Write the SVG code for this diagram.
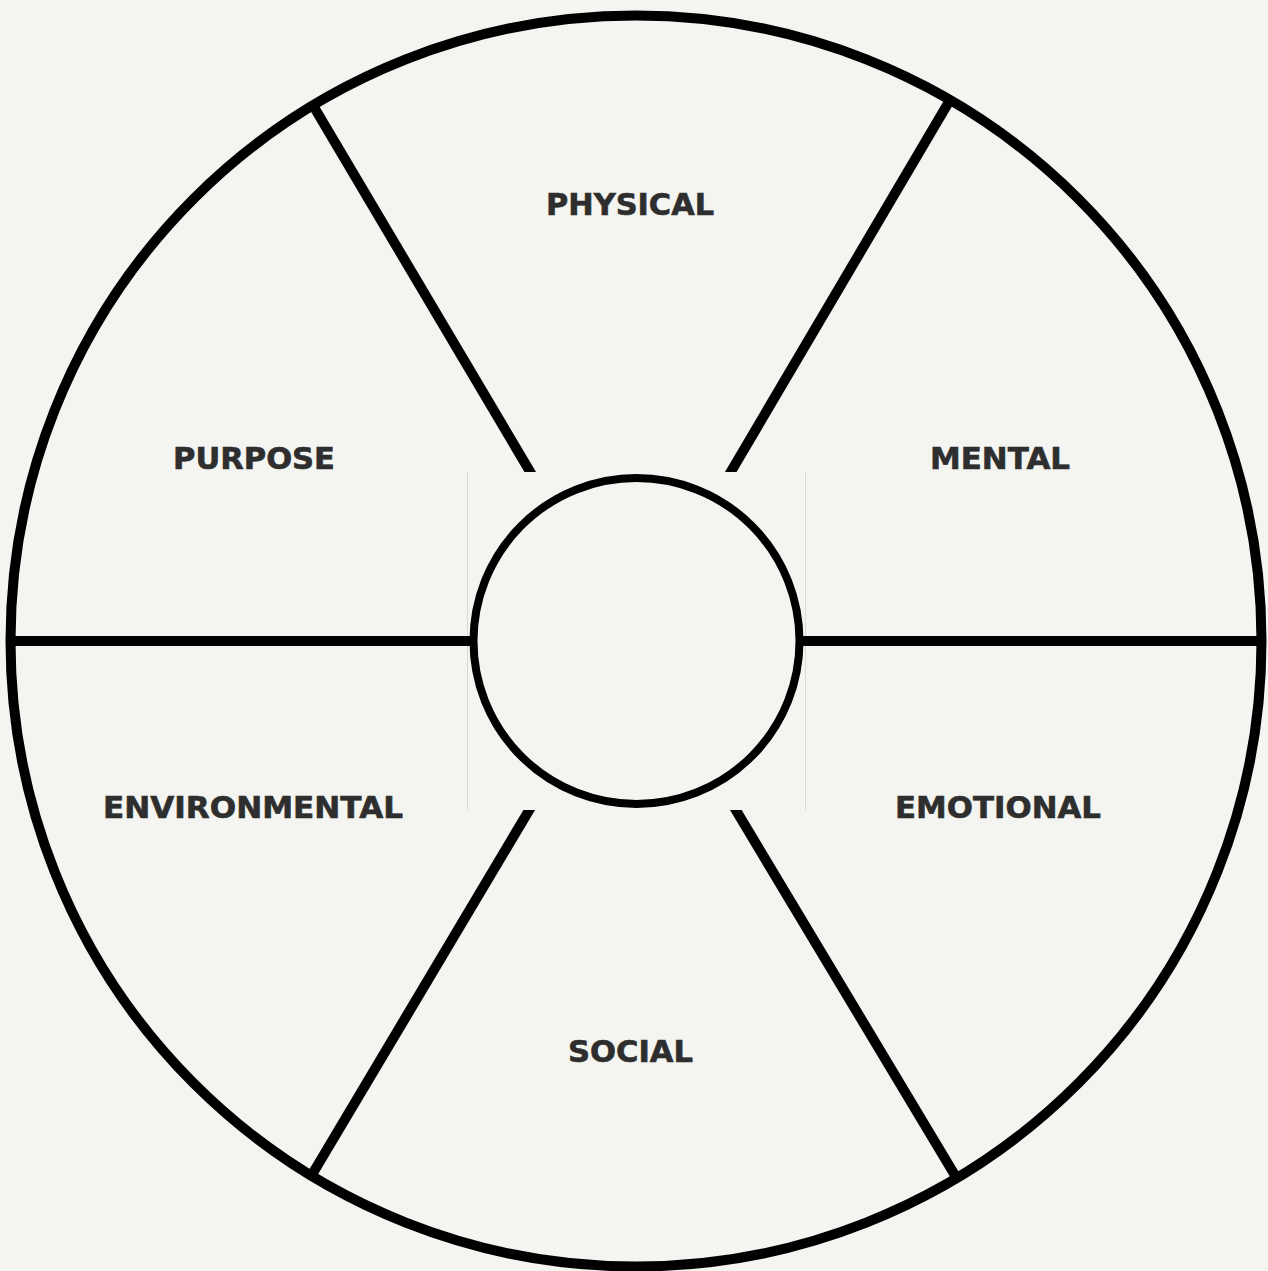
<svg xmlns="http://www.w3.org/2000/svg" width="1268" height="1271" viewBox="0 0 1268 1271">
  <style>
    .lbl { font-family: "DejaVu Sans", "Liberation Sans", sans-serif; font-weight: bold; font-size: 30px; fill: #2e2e2e; stroke: #2e2e2e; stroke-width: 0.6; text-anchor: middle; }
    .spoke { stroke: #000; stroke-width: 10; fill: none; stroke-linecap: butt; }
    .faint { stroke: #d9d9d6; stroke-width: 1; }
  </style>
  <defs>
    <clipPath id="topClip"><rect x="0" y="0" width="1268" height="472"/></clipPath>
    <clipPath id="botClip"><rect x="0" y="810" width="1268" height="461"/></clipPath>
  </defs>
  <rect x="0" y="0" width="1268" height="1271" fill="#f4f5f0"/>
  <g id="outer-circle">
    <circle cx="636" cy="641" r="625.5" fill="#f4f5f0" stroke="#000" stroke-width="10"/>
  </g>
  <g id="connectors">
    <line class="faint" x1="467.5" y1="472" x2="467.5" y2="810"/>
    <line class="faint" x1="805.5" y1="472" x2="805.5" y2="810"/>
    <line class="spoke" x1="10" y1="641" x2="470" y2="641" stroke-width="9"/>
    <line class="spoke" x1="803" y1="641" x2="1262" y2="641" stroke-width="9"/>
    <g clip-path="url(#topClip)">
      <line class="spoke" x1="311" y1="102" x2="535" y2="480"/>
      <line class="spoke" x1="950" y1="100" x2="726" y2="480"/>
    </g>
    <g clip-path="url(#botClip)">
      <line class="spoke" x1="534" y1="802" x2="310" y2="1178" stroke-linecap="round"/>
      <line class="spoke" x1="731" y1="802" x2="956" y2="1177"/>
    </g>
  </g>
  <g id="center">
    <circle cx="636.5" cy="641" r="163" fill="#f4f5f0" stroke="#000" stroke-width="8"/>
  </g>
  <g id="physical"><text class="lbl" x="630" y="215" textLength="168" lengthAdjust="spacingAndGlyphs">PHYSICAL</text></g>
  <g id="mental"><text class="lbl" x="1000" y="469" textLength="140" lengthAdjust="spacingAndGlyphs">MENTAL</text></g>
  <g id="emotional"><text class="lbl" x="998" y="818" textLength="206" lengthAdjust="spacingAndGlyphs">EMOTIONAL</text></g>
  <g id="social"><text class="lbl" x="630.5" y="1062" textLength="125" lengthAdjust="spacingAndGlyphs">SOCIAL</text></g>
  <g id="environmental"><text class="lbl" x="253" y="818" textLength="300" lengthAdjust="spacingAndGlyphs">ENVIRONMENTAL</text></g>
  <g id="purpose"><text class="lbl" x="254" y="469" textLength="162" lengthAdjust="spacingAndGlyphs">PURPOSE</text></g>
</svg>
